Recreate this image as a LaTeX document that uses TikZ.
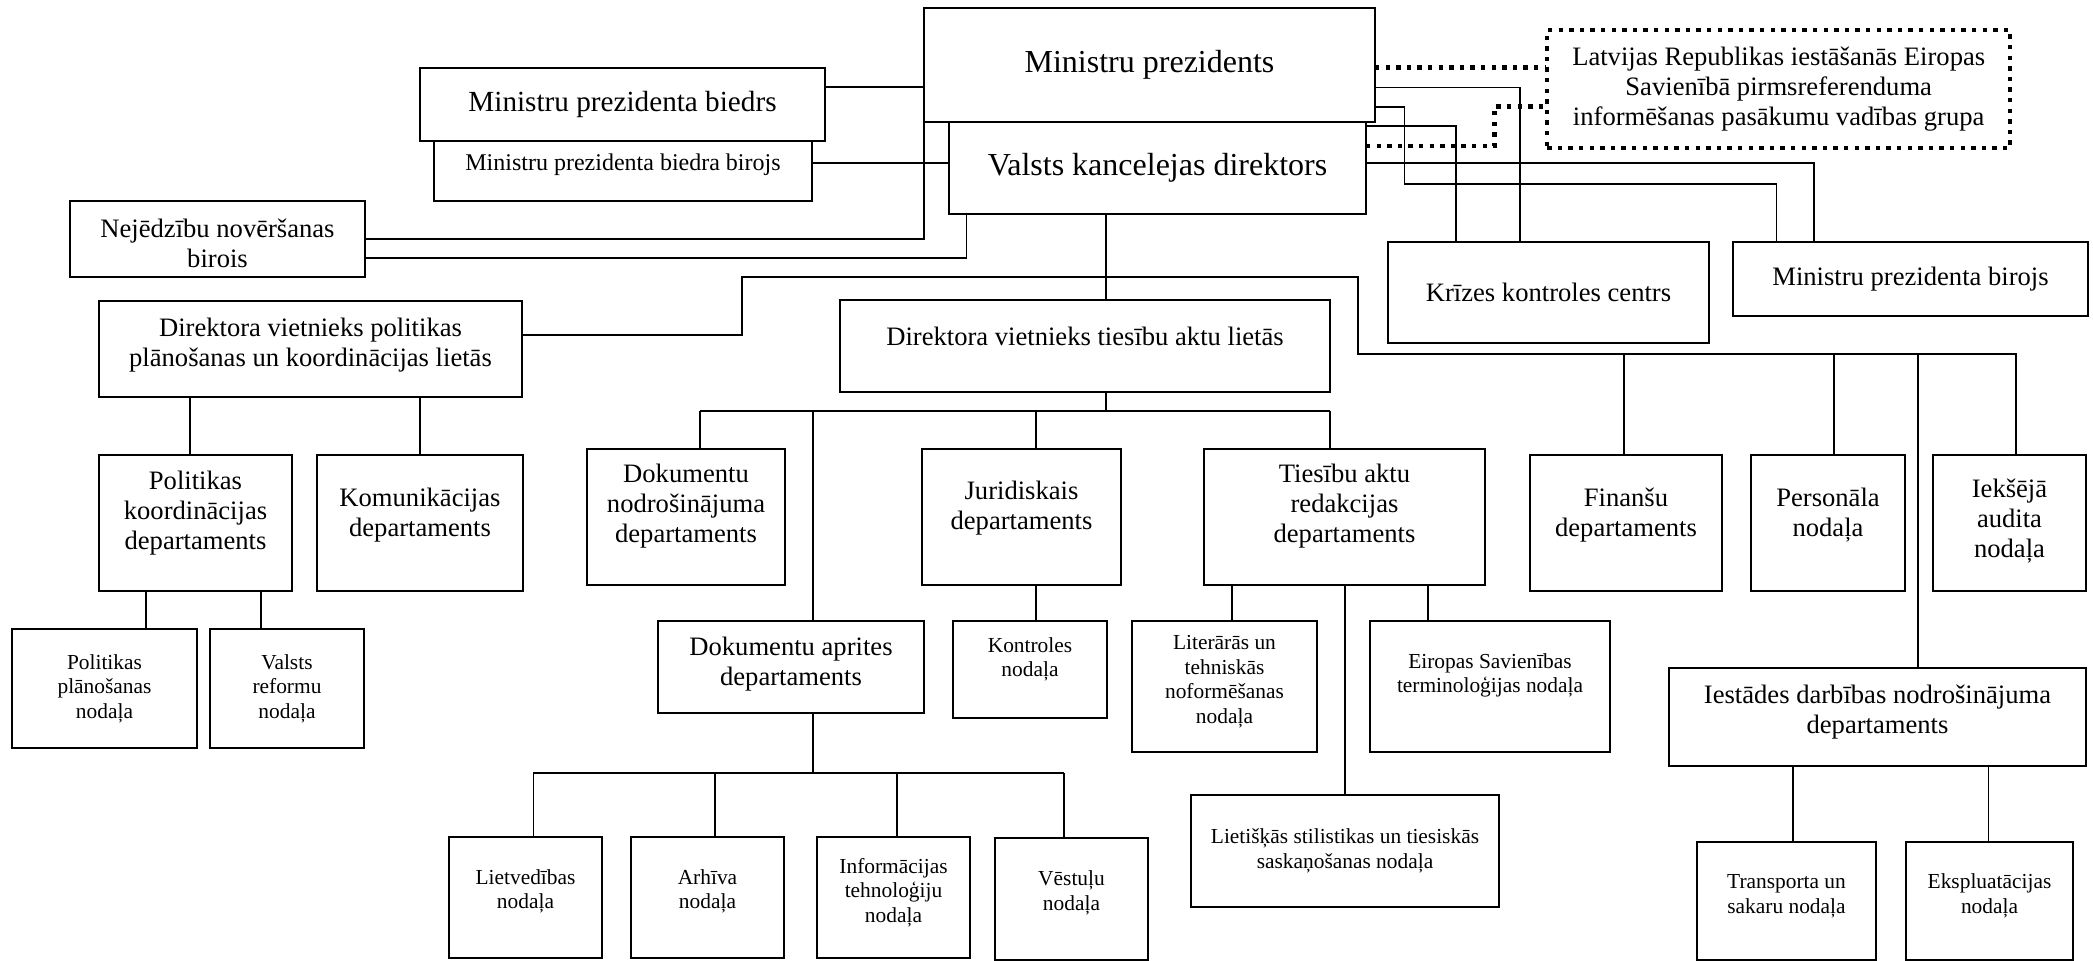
\documentclass[tikz,border=0pt]{standalone}
\usepackage{fontspec}
\setmainfont{Liberation Serif}
\newcommand\fbig{\fontsize{16}{18}\selectfont}
\newcommand\fmid{\fontsize{14.6}{17}\selectfont}
\newcommand\fstd{\fontsize{13.3}{15}\selectfont}
\newcommand\fbir{\fontsize{12}{14}\selectfont}
\newcommand\fsm{\fontsize{10.7}{12.3}\selectfont}
\newcommand\obox[8]{%
  \node[box, minimum width={(#4-#2)*0.5pt}, minimum height={(#5-#3)*0.5pt},
        label={[lab,font=#6,yshift=#7pt]center:{#8}}] (#1) at (#2,#3) {};}
\begin{document}
\begin{tikzpicture}[x=0.5pt,y=-0.5pt,
  box/.style={draw,line width=1.05pt,inner sep=0pt,outer sep=0pt,anchor=north west},
  conn/.style={line width=0.9pt},
  dotl/.style={line width=2.2pt,dash pattern=on 2.2pt off 3.1pt},
  lab/.style={align=center,inner sep=0pt}]
\fill[white] (0,0) rectangle (2093,961);
\useasboundingbox (0,0) rectangle (2093,961);

% boxes
\obox{MP}{924}{8}{1375}{122}{\fbig}{0}{Ministru prezidents}
\obox{VKD}{949}{122}{1366}{214}{\fbig}{0}{Valsts kancelejas direktors}
\obox{MPB}{420}{68}{825}{141}{\fmid}{0}{Ministru prezidenta biedrs}
\obox{MPBB}{434}{141}{812}{201}{\fbir}{3}{Ministru prezidenta biedra birojs}
\obox{NEJ}{70}{201}{365}{277}{\fstd}{-2}{Nejēdzību novēršanas\\birois}
\obox{DVP}{99}{301}{522}{397}{\fstd}{2}{Direktora vietnieks politikas\\plānošanas un koordinācijas lietās}
\obox{DVT}{840}{300}{1330}{392}{\fstd}{5}{Direktora vietnieks tiesību aktu lietās}
\obox{KRZ}{1388}{242}{1709}{343}{\fstd}{0}{Krīzes kontroles centrs}
\obox{MPBir}{1733}{242}{2088}{316}{\fstd}{0}{Ministru prezidenta birojs}
\node[draw,dotl,anchor=north west,inner sep=0pt,align=center,font=\fstd,
      minimum width={(2008-1545)*0.5pt},minimum height={(146-28)*0.5pt}] (LAT) at (1545,28)
      {Latvijas Republikas iestāšanās Eiropas\\Savienībā pirmsreferenduma\\informēšanas pasākumu vadības grupa};
\obox{PolK}{99}{455}{292}{591}{\fstd}{5}{Politikas\\koordinācijas\\departaments}
\obox{KOM}{317}{455}{523}{591}{\fstd}{4}{Komunikācijas\\departaments}
\obox{PP}{12}{629}{197}{748}{\fsm}{0}{Politikas\\plānošanas\\nodaļa}
\obox{VR}{210}{629}{364}{748}{\fsm}{0}{Valsts\\reformu\\nodaļa}
\obox{DokN}{587}{449}{785}{585}{\fstd}{5.5}{Dokumentu\\nodrošinājuma\\departaments}
\obox{Jur}{922}{449}{1121}{585}{\fstd}{4.5}{Juridiskais\\departaments}
\obox{TAR}{1204}{449}{1485}{585}{\fstd}{5.5}{Tiesību aktu\\redakcijas\\departaments}
\obox{FIN}{1530}{455}{1722}{591}{\fstd}{4}{Finanšu\\departaments}
\obox{PERS}{1751}{455}{1905}{591}{\fstd}{4}{Personāla\\nodaļa}
\obox{IEK}{1933}{455}{2086}{591}{\fstd}{1}{Iekšējā\\audita\\nodaļa}
\obox{DokA}{658}{621}{924}{713}{\fstd}{1.5}{Dokumentu aprites\\departaments}
\obox{KON}{953}{621}{1107}{718}{\fsm}{5}{Kontroles\\nodaļa}
\obox{LIT}{1132}{621}{1317}{752}{\fsm}{2.5}{Literārās un\\tehniskās\\noformēšanas\\nodaļa}
\obox{EIR}{1370}{621}{1610}{752}{\fsm}{5.5}{Eiropas Savienības\\terminoloģijas nodaļa}
\obox{LIE}{1191}{795}{1499}{907}{\fsm}{0}{Lietišķās stilistikas un tiesiskās\\saskaņošanas nodaļa}
\obox{IES}{1669}{668}{2086}{766}{\fstd}{2.5}{Iestādes darbības nodrošinājuma\\departaments}
\obox{TRA}{1697}{842}{1876}{960}{\fsm}{2.5}{Transporta un\\sakaru nodaļa}
\obox{EKS}{1906}{842}{2073}{960}{\fsm}{2.5}{Ekspluatācijas\\nodaļa}
\obox{LIET}{449}{837}{602}{958}{\fsm}{3}{Lietvedības\\nodaļa}
\obox{ARH}{631}{837}{784}{958}{\fsm}{3}{Arhīva\\nodaļa}
\obox{INF}{817}{837}{970}{958}{\fsm}{2.5}{Informācijas\\tehnoloģiju\\nodaļa}
\obox{VES}{995}{838}{1148}{960}{\fsm}{3}{Vēstuļu\\nodaļa}

% top connectors
\draw[conn] (MPB.east |- 0,86.7) -- (MP.west |- 0,86.7);
\draw[conn] (MPBB.east |- 0,162.7) -- (VKD.west |- 0,162.7);
\draw[conn] (MP.south west) |- (NEJ.east |- 0,239);
\draw[conn] (966.5,0 |- VKD.south) |- (NEJ.east |- 0,258);
\draw[conn] (1106,0 |- VKD.south) -- (1106,0 |- DVT.north);

% right side from MP / VKD
\draw[dotl] (MP.east |- 0,67.5) -- (LAT.west |- 0,67.5);
\draw[dotl] (VKD.east |- 0,146) -| (1494.5,106.7) -- (LAT.west |- 0,106.7);
\draw[conn] (MP.east |- 0,87.5) -| (1520,0 |- KRZ.north);
\draw[conn] (MP.east |- 0,106.7) -- (1404.5,106.7) |- (1776.5,183.7) -- (1776.5,0 |- MPBir.north);
\draw[conn] (VKD.east |- 0,126) -| (1456,0 |- KRZ.north);
\draw[conn] (VKD.east |- 0,163.3) -| (1813.7,0 |- MPBir.north);

% DVP long connector and right bus
\coordinate (bus2) at (1358,354);
\draw[conn] (DVP.east |- 0,335) -- (742,335) -- (742,277) -- (1358,277) -- (bus2) -- (bus2 -| 2017,0);
\draw[conn] (bus2 -| 1624,0) -- (FIN.north -| 1624,0);
\draw[conn] (bus2 -| 1834,0) -- (PERS.north -| 1834,0);
\draw[conn] (bus2 -| 2016,0) -- (IEK.north -| 2016,0);
\draw[conn] (bus2 -| 1918,0) -- (IES.north -| 1918,0);

% DVP children
\draw[conn] (DVP.south -| 189.7,0) -- (PolK.north -| 189.7,0);
\draw[conn] (DVP.south -| 419.6,0) -- (KOM.north -| 419.6,0);
\draw[conn] (PolK.south -| 146,0) -- (PP.north -| 146,0);
\draw[conn] (PolK.south -| 261,0) -- (VR.north -| 261,0);

% DVT bus
\coordinate (bus1) at (1106,411);
\draw[conn] (DVT.south -| 1106,0) -- (bus1);
\draw[conn] (bus1 -| 700,0) -- (bus1 -| 1330,0);
\draw[conn] (bus1 -| 700,0) -- (DokN.north -| 700,0);
\draw[conn] (bus1 -| 812.7,0) -- (DokA.north -| 812.7,0);
\draw[conn] (bus1 -| 1036,0) -- (Jur.north -| 1036,0);
\draw[conn] (bus1 -| 1330,0) -- (TAR.north -| 1330,0);
\draw[conn] (Jur.south -| 1036,0) -- (KON.north -| 1036,0);
\draw[conn] (TAR.south -| 1232,0) -- (LIT.north -| 1232,0);
\draw[conn] (TAR.south -| 1345,0) -- (LIE.north -| 1345,0);
\draw[conn] (TAR.south -| 1428,0) -- (EIR.north -| 1428,0);

% DokA bus
\coordinate (bus3) at (812.7,773);
\draw[conn] (DokA.south -| 812.7,0) -- (bus3);
\draw[conn] (bus3 -| 533.4,0) -- (bus3 -| 1063.8,0);
\draw[conn] (bus3 -| 533.4,0) -- (LIET.north -| 533.4,0);
\draw[conn] (bus3 -| 714.8,0) -- (ARH.north -| 714.8,0);
\draw[conn] (bus3 -| 897,0) -- (INF.north -| 897,0);
\draw[conn] (bus3 -| 1063.8,0) -- (VES.north -| 1063.8,0);

% IES children
\draw[conn] (IES.south -| 1793,0) -- (TRA.north -| 1793,0);
\draw[conn] (IES.south -| 1988.5,0) -- (EKS.north -| 1988.5,0);
\end{tikzpicture}
\end{document}
